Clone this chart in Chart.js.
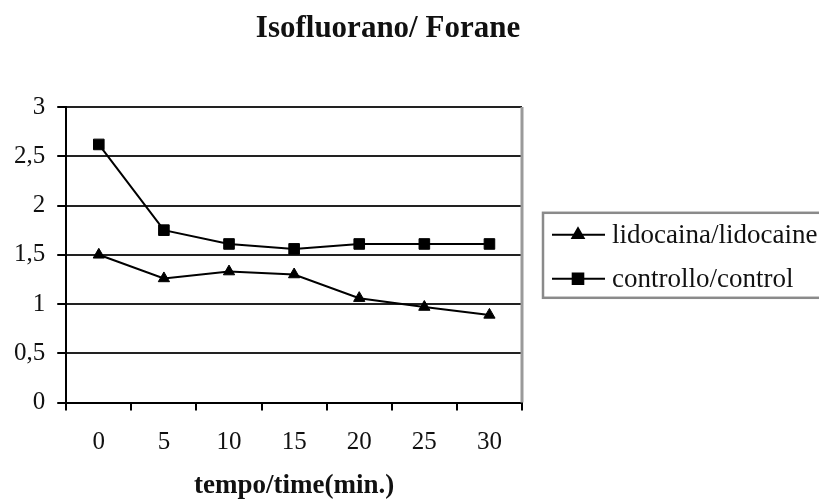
<!DOCTYPE html>
<html>
<head>
  <script src="https://cdn.jsdelivr.net/npm/chart.js"></script>
  <style>
    html, body { margin: 0; padding: 0; background: #ffffff; }
    #wrap { width: 819px; height: 499px; }
  </style>
</head>
<body>
  <div id="wrap"><canvas id="isoChart" width="819" height="499"></canvas></div>
  <script>
    const TIMES = ['0', '5', '10', '15', '20', '25', '30'];
    const LIDOCAINE = [1.50, 1.26, 1.33, 1.30, 1.06, 0.97, 0.89];
    const CONTROL = [2.62, 1.75, 1.61, 1.56, 1.61, 1.61, 1.61];
    const Y_TICK_LABELS = ['0', '0,5', '1', '1,5', '2', '2,5', '3'];
    const SERIES_LABELS = ['lidocaina/lidocaine', 'controllo/control'];
    const CHART_TITLE = 'Isofluorano/ Forane';
    const X_TITLE = 'tempo/time(min.)';

    const SERIF = '"Liberation Serif", "Times New Roman", serif';

    // title, right frame edge and boxed legend drawn by hand (Excel-like)
    const excelBits = {
      id: 'excelBits',
      beforeDatasetsDraw(chart) {
        const { ctx, chartArea } = chart;
        ctx.save();
        ctx.strokeStyle = '#9a9a9a';
        ctx.lineWidth = 3;
        ctx.beginPath();
        ctx.moveTo(chartArea.right, chartArea.top);
        ctx.lineTo(chartArea.right, chartArea.bottom);
        ctx.stroke();
        ctx.restore();
      },
      afterDraw(chart) {
        const { ctx, chartArea } = chart;
        ctx.save();
        ctx.fillStyle = '#111';
        ctx.font = 'bold 31px ' + SERIF;
        ctx.textAlign = 'center';
        ctx.textBaseline = 'alphabetic';
        ctx.fillText(CHART_TITLE, 388, 37);

        // legend box
        const bx = chartArea.right + 21;
        const mid = (chartArea.top + chartArea.bottom) / 2;
        const by = mid - 42;
        ctx.strokeStyle = '#8a8a8a';
        ctx.lineWidth = 2.5;
        ctx.strokeRect(bx, by, 320, 85);

        ctx.font = '27px ' + SERIF;
        ctx.textAlign = 'left';
        ctx.textBaseline = 'middle';
        chart.data.datasets.forEach((ds, i) => {
          const y = by + 22 + i * 44;
          ctx.strokeStyle = '#000';
          ctx.lineWidth = 2;
          ctx.beginPath();
          ctx.moveTo(bx + 9, y);
          ctx.lineTo(bx + 62, y);
          ctx.stroke();
          ctx.fillStyle = '#000';
          Chart.helpers.drawPoint(ctx, {
            pointStyle: ds.pointStyle, radius: ds.pointRadius, borderWidth: 1, rotation: 0
          }, bx + 35, y);
          ctx.fillStyle = '#111';
          ctx.fillText(ds.label, bx + 69, y + 1);
        });
        ctx.restore();
      }
    };

    const chart = new Chart(document.getElementById('isoChart'), {
      type: 'line',
      data: {
        labels: TIMES,
        datasets: [
          {
            label: SERIES_LABELS[0],
            data: LIDOCAINE,
            borderColor: '#000',
            borderWidth: 2,
            pointStyle: 'triangle',
            pointRadius: 6.5,
            pointBackgroundColor: '#000',
            pointBorderColor: '#000',
            pointBorderWidth: 1,
            tension: 0
          },
          {
            label: SERIES_LABELS[1],
            data: CONTROL,
            borderColor: '#000',
            borderWidth: 2,
            pointStyle: 'rect',
            pointRadius: 7.5,
            pointBackgroundColor: '#000',
            pointBorderColor: '#000',
            pointBorderWidth: 1,
            tension: 0
          }
        ]
      },
      options: {
        responsive: false,
        animation: false,
        devicePixelRatio: 1,
        layout: { padding: { top: 107, right: 297, bottom: 0, left: 2 } },
        scales: {
          x: {
            offset: true,
            grid: {
              offset: true,
              drawOnChartArea: false,
              tickLength: 8,
              tickColor: '#000',
              lineWidth: 2
            },
            border: { color: '#000', width: 2 },
            ticks: { color: '#111', font: { family: SERIF, size: 25, lineHeight: 1.2 }, padding: 17 },
            title: {
              display: true,
              text: X_TITLE,
              color: '#111',
              font: { family: SERIF, size: 27, weight: 'bold', lineHeight: 1.2 },
              padding: { top: -5, bottom: -3 }
            }
          },
          y: {
            min: 0,
            max: 3,
            ticks: {
              stepSize: 0.5,
              color: '#111',
              font: { family: SERIF, size: 25 },
              padding: 12,
              callback: (value, index) => Y_TICK_LABELS[index]
            },
            grid: { color: '#222', lineWidth: 2, tickLength: 9, tickColor: '#000' },
            border: { color: '#000', width: 2 }
          }
        },
        plugins: {
          legend: { display: false },
          title: { display: false },
          tooltip: { enabled: false }
        }
      },
      plugins: [excelBits]
    });
  </script>
</body>
</html>
